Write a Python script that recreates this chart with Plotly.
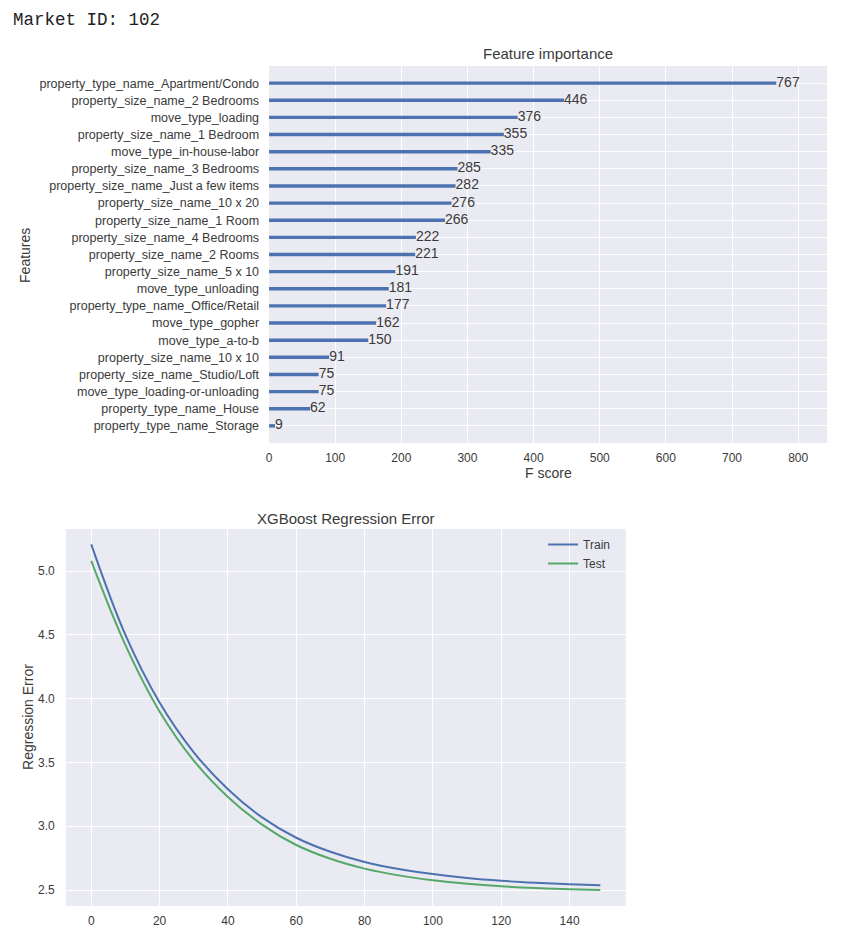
import plotly.graph_objects as go

# feature importance (top to bottom as drawn)
features = [
    "property_type_name_Apartment/Condo",
    "property_size_name_2 Bedrooms",
    "move_type_loading",
    "property_size_name_1 Bedroom",
    "move_type_in-house-labor",
    "property_size_name_3 Bedrooms",
    "property_size_name_Just a few items",
    "property_size_name_10 x 20",
    "property_size_name_1 Room",
    "property_size_name_4 Bedrooms",
    "property_size_name_2 Rooms",
    "property_size_name_5 x 10",
    "move_type_unloading",
    "property_type_name_Office/Retail",
    "move_type_gopher",
    "move_type_a-to-b",
    "property_size_name_10 x 10",
    "property_size_name_Studio/Loft",
    "move_type_loading-or-unloading",
    "property_type_name_House",
    "property_type_name_Storage",
]
f_scores = [767, 446, 376, 355, 335, 285, 282, 276, 266, 222, 221,
            191, 181, 177, 162, 150, 91, 75, 75, 62, 9]

# regression error per boosting round
rounds = [0, 10, 20, 30, 40, 50, 60, 70, 80, 90, 100, 110, 120, 130, 140, 149]
train_err = [5.21, 4.50, 3.97, 3.58, 3.29, 3.07, 2.91, 2.80, 2.72, 2.665,
             2.625, 2.595, 2.573, 2.557, 2.545, 2.537]
test_err = [5.08, 4.42, 3.90, 3.515, 3.23, 3.013, 2.853, 2.745, 2.668, 2.615,
            2.577, 2.55, 2.53, 2.516, 2.507, 2.501]

BG = "#EAEAF2"
BLUE = "#4C72B0"
GREEN = "#55A868"
TXT = "#3a3a3a"
FONT = "Liberation Sans, Arial, sans-serif"
# page body has an 8px margin, so the figure sits at (8, 8)
OFF = 8
W, H = 848 - 2 * OFF, 945 - 2 * OFF

def px_x(p):
    return (p - OFF) / W

def px_y(p):
    return 1 - (p - OFF) / H

feat_asc = features[::-1]
score_asc = f_scores[::-1]

fig = go.Figure()
fig.add_trace(go.Bar(x=score_asc, y=feat_asc, orientation="h", width=0.2,
                     marker=dict(color=BLUE, line_width=0),
                     showlegend=False, xaxis="x", yaxis="y"))
fig.add_trace(go.Scatter(x=score_asc, y=feat_asc, mode="text",
                         text=[str(v) for v in score_asc],
                         textposition="middle right",
                         textfont=dict(size=14, color=TXT),
                         cliponaxis=False, showlegend=False,
                         xaxis="x", yaxis="y"))
fig.add_trace(go.Scatter(x=rounds, y=train_err, mode="lines", name="Train",
                         line=dict(color=BLUE, width=2, shape="spline"),
                         xaxis="x2", yaxis="y2"))
fig.add_trace(go.Scatter(x=rounds, y=test_err, mode="lines", name="Test",
                         line=dict(color=GREEN, width=2, shape="spline"),
                         xaxis="x2", yaxis="y2"))

axis_common = dict(gridcolor="white", gridwidth=1.2, zeroline=False,
                   showline=False, ticks="")

fig.update_layout(
    width=W, height=H,
    margin=dict(l=0, r=0, t=0, b=0),
    paper_bgcolor="white", plot_bgcolor=BG,
    font=dict(family=FONT, color=TXT),
    xaxis=dict(domain=[px_x(267), px_x(827)], anchor="y",
               range=[0, 843.7], dtick=100, ticklabelstandoff=6,
               tickfont=dict(size=12, color=TXT), **axis_common),
    yaxis=dict(domain=[px_y(443), px_y(66)], anchor="x", type="category",
               categoryorder="array", categoryarray=feat_asc,
               range=[-1, len(features)], ticklabelstandoff=9,
               tickfont=dict(size=12.5, color=TXT), **axis_common),
    xaxis2=dict(domain=[px_x(63), px_x(625)], anchor="y2",
                range=[-7.45, 156.45], dtick=20, ticklabelstandoff=6,
                tickfont=dict(size=12, color=TXT), **axis_common),
    yaxis2=dict(domain=[px_y(906), px_y(529)], anchor="x2",
                range=[2.375, 5.33], dtick=0.5, tickformat=".1f",
                ticklabelstandoff=10, tickfont=dict(size=12, color=TXT),
                **axis_common),
    legend=dict(x=px_x(542), y=px_y(530), xanchor="left", yanchor="top",
                bgcolor="rgba(0,0,0,0)", font=dict(size=12, color=TXT),
                tracegroupgap=0),
    annotations=[
        dict(text="Market ID: 102", x=px_x(9), y=px_y(20), xref="paper", yref="paper",
             xanchor="left", yanchor="middle", showarrow=False, borderpad=0,
             font=dict(family="Liberation Mono, Courier New, monospace", size=17.5, color="#222")),
        dict(text="Feature importance", x=px_x(547), y=px_y(53), xref="paper", yref="paper",
             xanchor="center", yanchor="middle", showarrow=False, font=dict(size=15)),
        dict(text="Features", x=px_x(22), y=px_y(255), xref="paper", yref="paper",
             xanchor="center", yanchor="middle", textangle=-90, showarrow=False,
             font=dict(size=14)),
        dict(text="F score", x=px_x(547), y=px_y(473), xref="paper", yref="paper",
             xanchor="center", yanchor="middle", showarrow=False, font=dict(size=14)),
        dict(text="XGBoost Regression Error", x=px_x(344), y=px_y(518), xref="paper",
             yref="paper", xanchor="center", yanchor="middle", showarrow=False,
             font=dict(size=15)),
        dict(text="Regression Error", x=px_x(25), y=px_y(717), xref="paper", yref="paper",
             xanchor="center", yanchor="middle", textangle=-90, showarrow=False,
             font=dict(size=14)),
    ],
)

fig.write_html("out.html")
